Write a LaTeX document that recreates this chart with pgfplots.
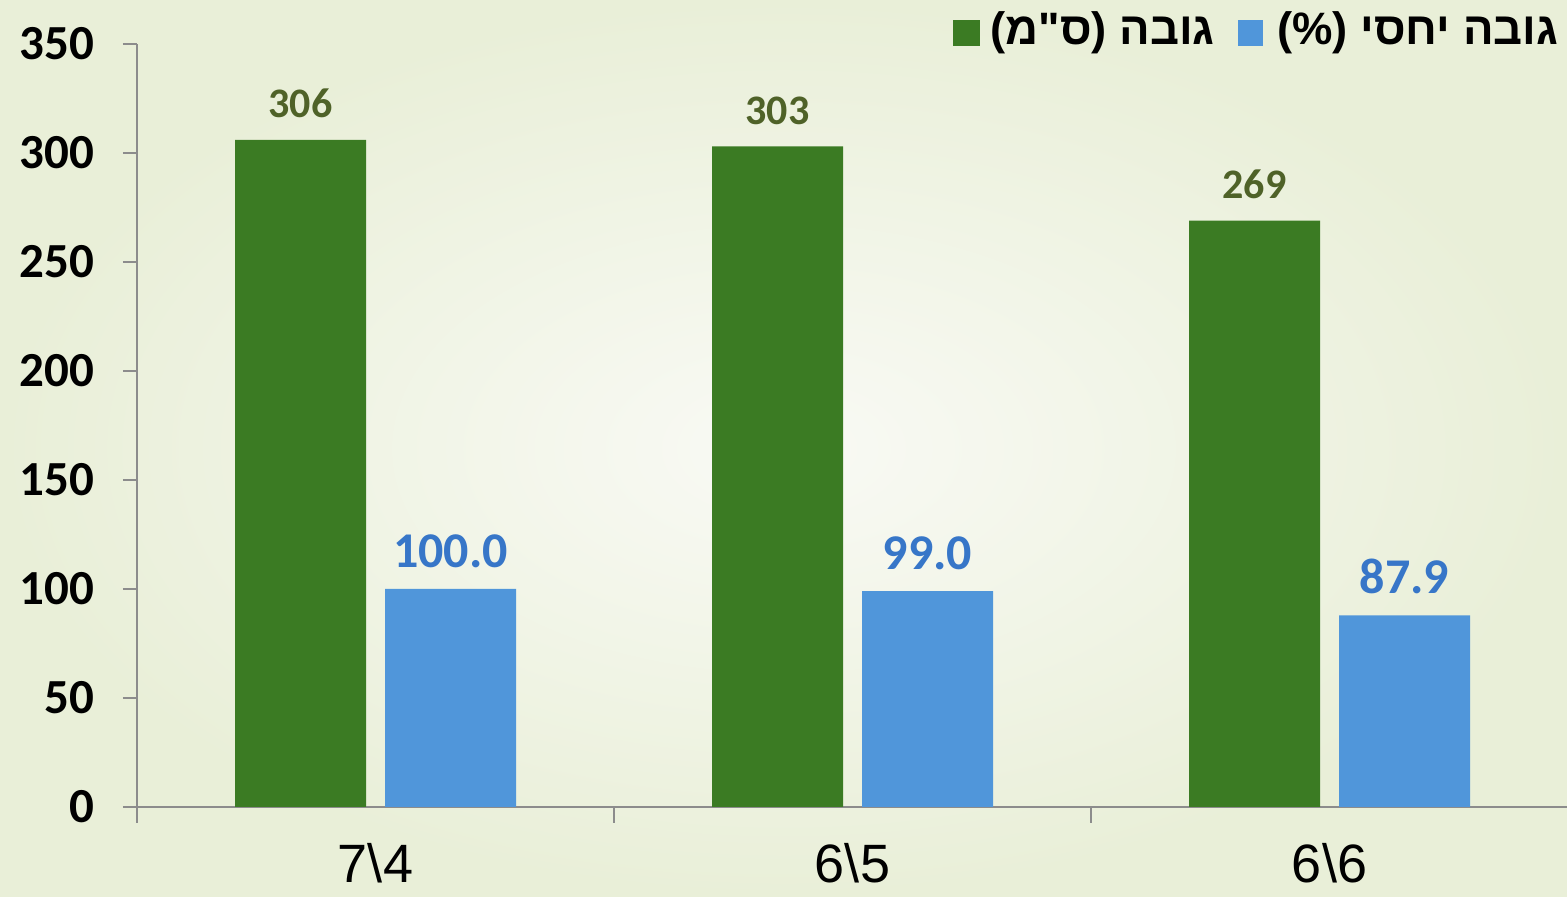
\documentclass[border=0pt]{standalone}
\usepackage{pgfplots}
\pgfplotsset{compat=1.18}
\usepackage{fontspec}
\setmainfont{Liberation Sans}
\newfontfamily\carlito{Carlito}
\newfontfamily\hebfont[Script=Hebrew]{Liberation Sans}
\TeXXeTstate=1
\definecolor{bggreen}{HTML}{E9EFD8}
\definecolor{bgcenter}{HTML}{F9FAF5}
\definecolor{bargreen}{HTML}{3B7B23}
\definecolor{barblue}{HTML}{5096DA}
\definecolor{lblgreen}{HTML}{4F6228}
\definecolor{lblblue}{HTML}{3776C8}
\definecolor{axisgray}{HTML}{8C8C8C}
\begin{document}
\begin{tikzpicture}
\shade[inner color=bgcenter, outer color=bggreen] (0,0) rectangle (783.5pt,448.5pt);
\path[use as bounding box] (0,0) rectangle (783.5pt,448.5pt);
\begin{axis}[
  at={(68.5pt,45pt)}, anchor=south west,
  scale only axis, width=715.5pt, height=381.5pt,
  xmin=-0.5, xmax=2.5, ymin=0, ymax=350,
  axis x line*=bottom, axis y line*=left,
  axis line style={axisgray, line width=1pt},
  ytick={0,50,...,350},
  xtick={0,1,2},
  xticklabels={7\textbackslash 4,6\textbackslash 5,6\textbackslash 6},
  minor xtick={-0.5,0.5,1.5,2.5},
  major x tick style={draw=none},
  minor x tick style={axisgray, line width=1pt},
  minor tick length=8pt,
  y tick style={axisgray, line width=1pt},
  major tick length=7pt,
  tick align=outside,
  yticklabel style={font=\carlito\bfseries\fontsize{24.5}{26}\selectfont, xshift=-11pt},
  xticklabel style={font=\fontsize{27}{29}\selectfont, inner sep=0pt, text depth=0pt, yshift=-11pt},
  /pgf/number format/assume math mode=true,
  ybar, bar width=65.5pt,
  clip=false,
]
\addplot[fill=bargreen, draw=none, bar shift=-37.5pt,
  nodes near coords, every node near coord/.append style={font=\carlito\bfseries\fontsize{21}{23}\selectfont, text=lblgreen, yshift=7.5pt},
  /pgf/number format/.cd, fixed, precision=0]
  coordinates {(0,306) (1,303) (2,269)};
\addplot[fill=barblue, draw=none, bar shift=37.5pt,
  nodes near coords, every node near coord/.append style={font=\carlito\bfseries\fontsize{25}{27}\selectfont, text=lblblue, yshift=7pt},
  /pgf/number format/.cd, fixed, fixed zerofill, precision=1]
  coordinates {(0,100.0) (1,99.0) (2,87.9)};
\end{axis}
% legend
\fill[bargreen] (476.5pt,438.5pt) rectangle (490pt,425.5pt);
\node[anchor=west, inner sep=0pt, font=\hebfont\bfseries\fontsize{22.7}{24}\selectfont] at (495pt,432pt) {\beginR גובה (ס"מ)\endR};
\fill[barblue] (619pt,438.5pt) rectangle (631.5pt,425.5pt);
\node[anchor=west, inner sep=0pt, font=\hebfont\bfseries\fontsize{22.7}{24}\selectfont] at (638.5pt,432pt) {\beginR גובה יחסי (\%)\endR};
\end{tikzpicture}
\end{document}
